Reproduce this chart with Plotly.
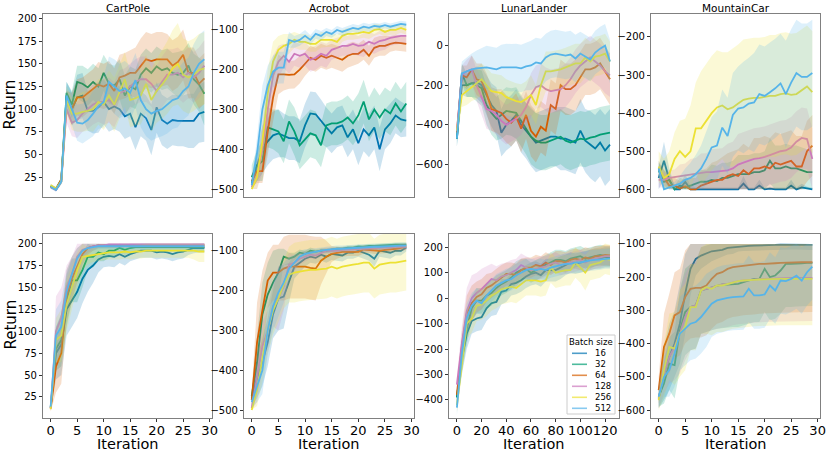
import numpy as np
import plotly.graph_objects as go

W, H = 830, 454

batch_sizes = ["16", "32", "64", "128", "256", "512"]
colors = ["#0173b2", "#029e73", "#d55e00", "#cc78bc", "#ece133", "#56b4e9"]
envs = ["CartPole", "Acrobot", "LunarLander", "MountainCar"]

iters = list(range(30))
iters_lunar = list(range(0, 125, 4))

# ---------------- top row ----------------
# rows in each list: batch size 16, 32, 64, 128, 256, 512
cartpole_top_mean = [
    [15, 11, 20, 115, 100, 113, 115, 98, 98, 102, 108, 100, 103, 100, 92, 95, 80, 95, 90, 77, 102, 88, 84, 88, 87, 87, 87, 87, 95, 97],
    [15, 12, 22, 118, 105, 130, 128, 124, 130, 125, 140, 128, 126, 133, 115, 125, 122, 138, 145, 140, 147, 143, 145, 140, 138, 140, 148, 133, 127, 117],
    [14, 12, 22, 108, 100, 113, 113, 118, 122, 127, 125, 128, 120, 135, 137, 140, 140, 148, 155, 153, 155, 155, 155, 148, 152, 160, 140, 140, 128, 134],
    [14, 11, 20, 100, 85, 88, 95, 100, 105, 108, 108, 110, 105, 118, 120, 125, 130, 133, 133, 128, 120, 130, 138, 138, 140, 135, 140, 135, 140, 148],
    [16, 12, 20, 110, 95, 95, 97, 98, 100, 108, 105, 115, 105, 120, 133, 110, 112, 115, 128, 110, 120, 127, 135, 145, 150, 138, 135, 138, 143, 145],
    [14, 11, 20, 115, 100, 85, 84, 88, 95, 103, 108, 130, 125, 120, 123, 118, 132, 110, 100, 95, 98, 100, 105, 110, 112, 120, 125, 140, 150, 155],
]
cartpole_top_sd = [
    [2, 2, 3, 15, 18, 25, 25, 22, 25, 28, 25, 25, 25, 25, 25, 25, 25, 25, 25, 28, 28, 28, 28, 28, 28, 28, 30, 30, 32, 33],
    [2, 2, 3, 12, 15, 18, 20, 20, 20, 20, 20, 22, 22, 22, 22, 22, 22, 22, 22, 22, 22, 22, 22, 22, 25, 25, 25, 28, 30, 35],
    [2, 2, 3, 12, 18, 20, 22, 22, 22, 25, 25, 25, 25, 25, 25, 25, 28, 30, 30, 30, 30, 30, 28, 28, 28, 28, 28, 28, 28, 28],
    [2, 2, 3, 15, 15, 20, 20, 22, 22, 22, 25, 25, 25, 25, 25, 25, 25, 25, 25, 25, 28, 28, 28, 28, 28, 28, 28, 28, 28, 28],
    [2, 2, 3, 15, 18, 20, 22, 22, 25, 25, 28, 28, 30, 30, 30, 30, 30, 32, 32, 35, 35, 38, 40, 42, 45, 40, 40, 40, 40, 40],
    [2, 2, 3, 15, 18, 20, 22, 22, 25, 25, 28, 28, 30, 30, 30, 30, 30, 30, 30, 30, 30, 30, 32, 32, 32, 32, 32, 32, 32, 32],
]

acrobot_top_mean = [
    [-485, -440, -400, -380, -365, -360, -365, -372, -372, -380, -340, -310, -312, -330, -345, -360, -345, -340, -370, -350, -385, -350, -365, -345, -400, -350, -335, -315, -325, -328],
    [-470, -440, -430, -345, -350, -355, -380, -330, -355, -390, -375, -360, -365, -390, -340, -335, -335, -330, -320, -335, -315, -280, -325, -300, -320, -300, -310, -285, -305, -285],
    [-480, -455, -455, -355, -270, -212, -212, -213, -212, -200, -185, -170, -175, -165, -170, -165, -170, -175, -165, -160, -160, -150, -165, -145, -140, -140, -135, -132, -133, -135],
    [-495, -470, -400, -300, -215, -180, -165, -180, -160, -165, -160, -175, -170, -160, -165, -150, -145, -140, -140, -135, -140, -138, -130, -135, -128, -125, -120, -118, -115, -115],
    [-500, -470, -380, -260, -180, -150, -140, -135, -125, -130, -130, -135, -135, -125, -125, -125, -130, -115, -110, -110, -108, -105, -108, -100, -98, -105, -100, -100, -95, -100],
    [-490, -410, -300, -240, -205, -195, -195, -125, -130, -125, -115, -125, -110, -115, -105, -110, -100, -105, -100, -95, -98, -92, -95, -90, -92, -88, -92, -88, -85, -87],
]
acrobot_top_sd = [
    [20, 40, 60, 60, 60, 60, 55, 55, 55, 55, 55, 55, 55, 55, 50, 50, 50, 50, 50, 50, 55, 55, 55, 55, 55, 50, 50, 45, 45, 40],
    [30, 40, 50, 50, 50, 55, 55, 55, 60, 60, 60, 60, 60, 55, 55, 55, 55, 55, 55, 55, 55, 55, 55, 55, 55, 55, 55, 55, 55, 55],
    [15, 30, 30, 60, 60, 50, 40, 35, 35, 35, 30, 30, 30, 30, 30, 30, 30, 30, 30, 30, 25, 25, 25, 25, 25, 25, 20, 20, 20, 20],
    [10, 30, 60, 60, 50, 40, 30, 30, 30, 30, 30, 30, 30, 30, 30, 25, 25, 25, 25, 25, 25, 30, 25, 25, 25, 25, 20, 20, 20, 20],
    [5, 30, 60, 60, 50, 35, 30, 25, 20, 20, 20, 20, 20, 20, 18, 18, 18, 15, 15, 15, 15, 15, 15, 15, 12, 12, 12, 12, 12, 12],
    [10, 40, 60, 50, 40, 40, 40, 20, 15, 15, 15, 12, 12, 12, 10, 10, 10, 10, 10, 10, 10, 10, 10, 8, 8, 8, 8, 8, 8, 8],
]

lunar_top_mean = [
    [-470, -200, -200, -190, -185, -200, -250, -300, -330, -440, -400, -380, -350, -400, -430, -460, -490, -480, -470, -460, -460, -470, -470, -480, -490, -430, -480, -500, -520, -490, -530, -500],
    [-470, -140, -200, -190, -200, -215, -300, -340, -370, -350, -330, -335, -340, -380, -420, -460, -480, -490, -490, -480, -470, -460, -480, -490, -480, -470, -475, -465, -460, -450, -445, -440],
    [-440, -150, -160, -120, -170, -180, -240, -320, -330, -340, -370, -390, -360, -420, -350, -430, -460, -410, -430, -300, -320, -200, -220, -220, -200, -160, -120, -120, -110, -90, -130, -170],
    [-430, -150, -130, -120, -200, -260, -320, -330, -350, -380, -400, -385, -370, -350, -310, -250, -210, -200, -220, -230, -225, -220, -200, -170, -130, -100, -80, -60, -80, -100, -130, -150],
    [-430, -250, -230, -210, -190, -170, -200, -230, -235, -240, -260, -270, -280, -285, -270, -250, -300, -200, -130, -130, -125, -120, -110, -100, -90, -90, -60, -80, -55, -50, -40, -80],
    [-470, -140, -130, -120, -115, -112, -110, -115, -120, -110, -110, -112, -110, -115, -105, -100, -85, -90, -60, -45, -40, -45, -50, -45, -65, -40, -55, -70, -35, -15, 0, -80],
]
lunar_top_sd = [
    [40, 50, 60, 70, 80, 90, 100, 110, 120, 120, 130, 130, 130, 140, 140, 150, 150, 150, 150, 150, 150, 160, 160, 160, 160, 160, 160, 170, 170, 170, 180, 180],
    [40, 50, 60, 70, 80, 90, 100, 110, 110, 120, 120, 120, 130, 130, 130, 140, 140, 140, 140, 140, 140, 140, 140, 140, 140, 140, 140, 140, 140, 140, 140, 140],
    [40, 50, 60, 70, 80, 90, 100, 110, 110, 120, 120, 120, 120, 120, 120, 130, 130, 130, 130, 130, 130, 130, 130, 130, 130, 130, 130, 130, 130, 130, 130, 130],
    [40, 50, 60, 70, 80, 90, 100, 100, 100, 100, 100, 100, 100, 100, 100, 110, 110, 110, 110, 110, 110, 110, 110, 110, 110, 110, 110, 110, 110, 110, 110, 110],
    [50, 60, 70, 70, 80, 80, 90, 90, 90, 90, 90, 90, 90, 90, 90, 100, 100, 100, 100, 100, 100, 100, 100, 100, 100, 100, 100, 100, 100, 100, 100, 100],
    [40, 60, 70, 80, 90, 100, 110, 110, 110, 115, 120, 120, 120, 120, 120, 125, 125, 125, 120, 120, 120, 120, 120, 120, 120, 110, 110, 110, 110, 110, 110, 110],
]

mountain_top_mean = [
    [-570, -525, -575, -600, -600, -580, -600, -600, -600, -600, -600, -600, -600, -600, -600, -600, -585, -600, -600, -590, -600, -598, -600, -600, -600, -590, -600, -595, -598, -600],
    [-550, -580, -575, -600, -590, -595, -590, -585, -580, -580, -575, -578, -570, -570, -565, -560, -560, -560, -555, -555, -550, -525, -545, -545, -540, -545, -545, -550, -555, -555],
    [-545, -570, -590, -590, -598, -592, -600, -600, -590, -585, -580, -575, -575, -565, -560, -565, -550, -560, -545, -545, -540, -545, -530, -535, -530, -525, -540, -540, -500, -485],
    [-575, -575, -570, -568, -565, -562, -560, -558, -556, -555, -555, -553, -552, -550, -545, -535, -530, -525, -520, -518, -515, -510, -505, -500, -498, -490, -475, -465, -468, -520],
    [-540, -570, -560, -520, -500, -515, -500, -440, -440, -420, -400, -385, -380, -390, -385, -375, -365, -362, -360, -360, -358, -355, -355, -350, -348, -352, -350, -340, -330, -345],
    [-545, -600, -595, -590, -585, -575, -570, -560, -545, -520, -490, -485, -438, -460, -405, -388, -385, -375, -372, -350, -355, -345, -335, -322, -350, -320, -295, -305, -305, -295],
]
mountain_top_sd = [
    [30, 50, 30, 10, 10, 20, 10, 5, 5, 5, 5, 5, 5, 5, 5, 5, 20, 5, 5, 15, 5, 5, 5, 5, 5, 15, 5, 10, 5, 5],
    [20, 30, 20, 10, 20, 20, 20, 30, 30, 30, 40, 40, 40, 40, 40, 50, 50, 50, 50, 50, 50, 60, 60, 60, 60, 60, 60, 60, 60, 60],
    [20, 20, 20, 20, 20, 20, 30, 30, 40, 40, 50, 50, 60, 60, 60, 70, 70, 70, 80, 80, 80, 80, 80, 80, 80, 80, 80, 80, 80, 80],
    [20, 20, 20, 20, 30, 30, 40, 40, 50, 50, 60, 60, 60, 70, 70, 80, 80, 80, 80, 80, 80, 80, 80, 80, 80, 80, 80, 80, 80, 80],
    [40, 50, 60, 70, 80, 100, 120, 120, 150, 150, 150, 150, 140, 150, 155, 155, 158, 158, 158, 158, 158, 160, 160, 160, 160, 160, 160, 160, 160, 160],
    [20, 30, 10, 10, 20, 30, 40, 50, 60, 70, 80, 90, 100, 100, 110, 110, 120, 120, 130, 130, 130, 130, 130, 130, 140, 140, 140, 140, 140, 140],
]

# ---------------- bottom row ----------------
cartpole_bot_mean = [
    [13, 75, 85, 125, 135, 145, 160, 170, 175, 182, 185, 186, 185, 188, 185, 188, 190, 192, 192, 192, 190, 191, 190, 188, 190, 191, 193, 195, 195, 195],
    [13, 80, 90, 135, 158, 158, 170, 185, 185, 190, 188, 192, 192, 195, 193, 195, 196, 196, 196, 196, 196, 196, 196, 196, 196, 196, 196, 196, 196, 196],
    [12, 60, 75, 140, 160, 175, 188, 195, 197, 198, 198, 198, 198, 198, 198, 198, 198, 198, 198, 198, 198, 198, 198, 198, 198, 198, 198, 198, 198, 198],
    [12, 100, 115, 150, 165, 185, 193, 195, 197, 198, 198, 199, 199, 199, 199, 199, 199, 199, 199, 199, 199, 199, 199, 199, 199, 199, 199, 199, 199, 199],
    [11, 90, 95, 130, 150, 170, 185, 186, 187, 188, 189, 190, 190, 190, 191, 190, 191, 191, 192, 192, 192, 192, 192, 192, 192, 192, 192, 192, 191, 191],
    [14, 95, 105, 145, 165, 183, 192, 195, 196, 197, 197, 197, 197, 197, 197, 197, 197, 197, 197, 197, 197, 197, 197, 197, 197, 197, 197, 197, 197, 197],
]
cartpole_bot_sd = [
    [3, 30, 35, 30, 30, 30, 28, 25, 20, 15, 12, 12, 12, 10, 10, 8, 8, 8, 8, 8, 8, 8, 8, 8, 8, 8, 6, 6, 5, 5],
    [3, 25, 30, 30, 25, 25, 20, 15, 12, 10, 8, 8, 6, 6, 6, 6, 6, 5, 5, 5, 5, 5, 5, 5, 5, 5, 5, 5, 5, 5],
    [4, 30, 35, 30, 25, 20, 12, 8, 5, 3, 3, 3, 3, 3, 3, 3, 3, 3, 3, 3, 3, 3, 3, 3, 3, 3, 3, 3, 3, 3],
    [3, 40, 35, 25, 20, 15, 8, 5, 3, 2, 2, 2, 2, 2, 2, 2, 2, 2, 2, 2, 2, 2, 2, 2, 2, 2, 2, 2, 2, 2],
    [3, 25, 30, 30, 25, 20, 15, 10, 8, 8, 8, 8, 8, 8, 8, 8, 8, 8, 8, 8, 8, 8, 8, 8, 8, 8, 8, 10, 12, 12],
    [3, 30, 30, 25, 20, 12, 8, 5, 4, 3, 3, 3, 3, 3, 3, 3, 3, 3, 3, 3, 3, 3, 3, 3, 3, 3, 3, 3, 3, 3],
]

acrobot_bot_mean = [
    [-470, -420, -380, -330, -260, -220, -215, -180, -140, -130, -120, -115, -118, -110, -115, -108, -110, -112, -105, -105, -100, -105, -110, -120, -100, -102, -105, -100, -100, -92],
    [-465, -380, -260, -210, -180, -155, -115, -120, -115, -105, -108, -100, -102, -100, -100, -98, -95, -95, -92, -92, -90, -90, -88, -88, -87, -86, -86, -85, -85, -85],
    [-475, -330, -250, -175, -155, -155, -145, -140, -140, -140, -140, -143, -145, -125, -115, -108, -105, -103, -103, -103, -103, -97, -98, -100, -100, -98, -97, -95, -93, -90],
    [-495, -420, -340, -300, -240, -220, -190, -135, -130, -120, -115, -110, -112, -105, -100, -100, -100, -98, -98, -97, -96, -95, -95, -93, -92, -92, -92, -90, -90, -90],
    [-500, -450, -370, -300, -250, -220, -185, -160, -155, -152, -150, -148, -148, -146, -145, -140, -145, -140, -137, -135, -133, -130, -130, -145, -135, -132, -130, -130, -127, -125],
    [-480, -440, -400, -300, -240, -205, -180, -145, -130, -115, -108, -105, -103, -100, -98, -96, -95, -95, -94, -93, -92, -92, -91, -90, -90, -89, -88, -88, -87, -87],
]
acrobot_bot_sd = [
    [20, 50, 60, 60, 60, 80, 80, 50, 30, 25, 20, 15, 15, 15, 15, 15, 15, 15, 15, 15, 15, 15, 15, 20, 15, 15, 15, 12, 12, 10],
    [20, 60, 80, 80, 80, 60, 20, 15, 10, 8, 8, 8, 6, 6, 6, 6, 5, 5, 5, 5, 5, 5, 5, 5, 5, 5, 5, 5, 5, 5],
    [20, 100, 100, 70, 70, 70, 80, 80, 80, 80, 80, 80, 80, 60, 40, 20, 15, 12, 10, 10, 10, 10, 8, 8, 8, 8, 8, 8, 8, 8],
    [10, 60, 60, 50, 50, 80, 60, 30, 20, 15, 12, 10, 10, 10, 8, 8, 8, 8, 8, 8, 8, 8, 8, 8, 8, 8, 8, 8, 8, 8],
    [10, 40, 60, 60, 60, 60, 60, 70, 75, 75, 75, 75, 75, 75, 75, 75, 75, 75, 75, 75, 75, 75, 75, 75, 75, 75, 75, 75, 75, 75],
    [15, 40, 60, 60, 60, 60, 50, 30, 20, 15, 12, 10, 10, 8, 8, 8, 8, 8, 8, 8, 8, 8, 8, 8, 8, 8, 8, 8, 8, 8],
]

lunar_bot_mean = [
    [-390, -240, -140, -90, -80, -75, -40, -20, -15, 25, 30, 55, 60, 70, 85, 95, 100, 90, 110, 110, 110, 120, 130, 140, 135, 140, 145, 150, 155, 155, 160, 160],
    [-390, -230, -120, -40, -10, -10, 10, 20, 40, 55, 65, 80, 100, 110, 115, 100, 110, 120, 130, 140, 150, 150, 145, 155, 160, 165, 155, 160, 165, 170, 165, 165],
    [-380, -190, -60, -20, 5, 15, 40, 50, 65, 80, 95, 95, 90, 110, 120, 120, 130, 125, 140, 130, 145, 145, 140, 150, 155, 150, 160, 155, 165, 165, 170, 168],
    [-340, -180, -50, 0, 20, 35, 55, 75, 70, 85, 90, 100, 110, 130, 120, 110, 115, 120, 125, 135, 140, 130, 135, 140, 145, 150, 140, 150, 155, 160, 165, 165],
    [-420, -250, -100, -80, -30, -25, -10, 10, 20, 35, 40, 45, 40, 55, 70, 70, 70, 65, 70, 120, 100, 105, 110, 110, 140, 120, 100, 130, 135, 140, 155, 150],
    [-430, -220, -80, -30, -10, -20, 10, 30, 50, 60, 70, 75, 90, 100, 110, 115, 110, 115, 110, 120, 125, 130, 135, 135, 140, 140, 145, 148, 150, 152, 155, 155],
]
lunar_bot_sd = [
    [30, 60, 60, 50, 50, 50, 50, 50, 50, 50, 45, 45, 45, 45, 45, 45, 45, 45, 45, 45, 45, 45, 40, 40, 40, 40, 40, 40, 40, 40, 40, 40],
    [30, 60, 60, 50, 50, 50, 50, 50, 50, 45, 45, 45, 45, 45, 40, 40, 40, 40, 40, 40, 40, 40, 40, 40, 40, 40, 40, 40, 40, 40, 40, 40],
    [30, 60, 70, 70, 60, 60, 55, 50, 50, 50, 45, 45, 45, 45, 40, 40, 40, 40, 40, 40, 40, 40, 40, 40, 40, 40, 40, 40, 40, 40, 40, 40],
    [30, 70, 90, 90, 80, 80, 70, 60, 55, 50, 50, 50, 45, 45, 45, 45, 45, 45, 40, 40, 40, 40, 40, 40, 40, 40, 40, 40, 40, 40, 40, 40],
    [30, 60, 60, 55, 60, 60, 60, 60, 60, 60, 60, 60, 60, 60, 60, 60, 60, 60, 60, 60, 60, 60, 60, 60, 60, 60, 70, 60, 60, 60, 60, 60],
    [30, 60, 60, 50, 50, 45, 45, 45, 45, 45, 45, 45, 45, 45, 45, 40, 40, 40, 40, 40, 40, 40, 40, 40, 40, 40, 40, 40, 40, 40, 40, 40],
]

mountain_bot_mean = [
    [-565, -490, -440, -400, -340, -250, -175, -145, -135, -128, -122, -120, -118, -112, -110, -108, -106, -106, -105, -105, -104, -103, -103, -102, -102, -102, -102, -102, -102, -103],
    [-560, -520, -460, -465, -360, -305, -290, -285, -240, -235, -230, -225, -222, -222, -220, -220, -215, -210, -205, -205, -175, -200, -195, -180, -160, -160, -158, -158, -157, -157],
    [-540, -410, -370, -315, -305, -260, -235, -232, -232, -225, -205, -190, -185, -175, -170, -168, -165, -163, -162, -160, -160, -158, -158, -157, -156, -155, -155, -155, -155, -155],
    [-565, -490, -440, -410, -370, -320, -290, -285, -240, -235, -230, -225, -222, -220, -215, -212, -210, -208, -207, -206, -205, -204, -204, -203, -203, -202, -202, -202, -202, -202],
    [-570, -480, -410, -415, -370, -350, -290, -290, -240, -230, -235, -225, -225, -220, -215, -212, -210, -210, -208, -207, -206, -205, -205, -205, -205, -204, -205, -205, -204, -205],
    [-560, -500, -480, -430, -370, -355, -340, -335, -320, -300, -280, -270, -265, -262, -260, -258, -258, -235, -255, -255, -252, -225, -240, -210, -212, -205, -195, -210, -185, -168],
]
mountain_bot_sd = [
    [30, 80, 100, 100, 120, 120, 80, 50, 40, 35, 30, 25, 20, 20, 20, 15, 15, 15, 15, 15, 15, 15, 15, 15, 15, 15, 15, 15, 15, 15],
    [30, 60, 80, 100, 120, 130, 130, 130, 130, 130, 130, 130, 130, 130, 130, 130, 130, 130, 130, 130, 130, 130, 130, 130, 130, 130, 130, 130, 130, 130],
    [40, 100, 120, 130, 130, 140, 150, 150, 150, 150, 150, 150, 150, 150, 150, 150, 150, 150, 150, 150, 150, 150, 150, 150, 150, 150, 150, 150, 150, 150],
    [30, 60, 80, 100, 120, 130, 130, 130, 130, 130, 130, 130, 130, 130, 130, 130, 130, 130, 130, 130, 130, 130, 130, 130, 130, 130, 130, 130, 130, 130],
    [30, 80, 100, 110, 130, 130, 130, 130, 130, 140, 140, 140, 140, 140, 140, 140, 140, 140, 140, 140, 140, 140, 140, 140, 140, 140, 140, 140, 140, 140],
    [30, 60, 80, 100, 110, 110, 110, 110, 110, 110, 100, 100, 100, 100, 100, 100, 100, 100, 100, 100, 100, 100, 100, 100, 100, 100, 100, 100, 100, 100],
]

# return bounds of each env (bands are cut there)
clip_lo = [0, -500, None, -600]
clip_hi = [200, 0, None, -100]

y_ticks_top = [list(range(25, 201, 25)), list(range(-500, -99, 100)), [-600, -400, -200, 0], list(range(-600, -199, 100))]
y_ticks_bot = [list(range(25, 201, 25)), list(range(-500, -99, 100)), list(range(-400, 201, 100)), list(range(-600, -99, 100))]
y_range_top = [[3, 205], [-520, -60], [-765, 160], [-620, -140]]
y_range_bot = [[1, 211], [-520, -58], [-471, 252], [-624, -70]]

# panel boxes in pixels
col_px = [(43, 212), (244, 414), (449, 619), (651, 820)]
row_px = [(14, 197), (234, 418)]


def fx(px):
    return px / W


def fy(py):
    return 1 - py / H


def rgba(hex_col, a):
    h = hex_col.lstrip("#")
    return "rgba(%d,%d,%d,%s)" % (int(h[0:2], 16), int(h[2:4], 16), int(h[4:6], 16), a)


def tick_text(vals):
    return [("\u2212%d" % -v) if v < 0 else str(v) for v in vals]


def note(text, x, y, size, **kw):
    d = dict(text=text, x=fx(x), y=fy(y), xref="paper", yref="paper",
             xanchor="center", yanchor="middle", showarrow=False,
             font=dict(size=size, color="black", family="DejaVu Sans"))
    d.update(kw)
    return d


panels = [
    (0, 0, iters, cartpole_top_mean, cartpole_top_sd),
    (0, 1, iters, acrobot_top_mean, acrobot_top_sd),
    (0, 2, iters_lunar, lunar_top_mean, lunar_top_sd),
    (0, 3, iters, mountain_top_mean, mountain_top_sd),
    (1, 0, iters, cartpole_bot_mean, cartpole_bot_sd),
    (1, 1, iters, acrobot_bot_mean, acrobot_bot_sd),
    (1, 2, iters_lunar, lunar_bot_mean, lunar_bot_sd),
    (1, 3, iters, mountain_bot_mean, mountain_bot_sd),
]

fig = go.Figure()
layout = dict(
    width=W, height=H,
    margin=dict(l=0, r=0, t=0, b=0, autoexpand=False),
    paper_bgcolor="white", plot_bgcolor="white",
    font=dict(family="DejaVu Sans", color="black"),
    showlegend=False,
)

for row, col, xs, means, sds in panels:
    n = row * 4 + col + 1
    xa = "x" if n == 1 else "x%d" % n
    ya = "y" if n == 1 else "y%d" % n
    for i in range(6):
        m = np.array(means[i], dtype=float)
        s = np.array(sds[i], dtype=float)
        lo = m - s
        hi = m + s
        if clip_lo[col] is not None:
            lo = np.clip(lo, clip_lo[col], clip_hi[col])
            hi = np.clip(hi, clip_lo[col], clip_hi[col])
        # shaded band
        fig.add_trace(go.Scatter(
            x=list(xs) + list(xs)[::-1],
            y=list(hi) + list(lo)[::-1],
            fill="toself", fillcolor=rgba(colors[i], 0.2),
            line=dict(width=0), mode="lines", hoverinfo="skip",
            xaxis=xa, yaxis=ya,
        ))
        # mean line
        fig.add_trace(go.Scatter(
            x=xs, y=m, mode="lines",
            line=dict(color=colors[i], width=1.8),
            name=batch_sizes[i], xaxis=xa, yaxis=ya,
        ))

    x0, x1 = col_px[col]
    y0, y1 = row_px[row]
    lunar = col == 2
    yt = (y_ticks_top if row == 0 else y_ticks_bot)[col]
    layout["xaxis" + ("" if n == 1 else str(n))] = dict(
        domain=[fx(x0), fx(x1)],
        range=[-6.4, 131.3] if lunar else [-1.45, 30.45],
        tickvals=list(range(0, 121, 20)) if lunar else list(range(0, 31, 5)),
        showticklabels=(row == 1), tickangle=0, ticklabelstandoff=-3,
        ticks="outside" if row == 1 else "", ticklen=3, tickcolor="#333",
        tickfont=dict(size=13, color="black"),
        showgrid=False, zeroline=False,
        showline=True, mirror=True, linecolor="#808080", linewidth=1.2,
        anchor=ya,
    )
    layout["yaxis" + ("" if n == 1 else str(n))] = dict(
        domain=[fy(y1), fy(y0)],
        range=(y_range_top if row == 0 else y_range_bot)[col],
        tickvals=yt, ticktext=tick_text(yt),
        ticks="outside", ticklen=3, tickcolor="#333",
        tickfont=dict(size=10, color="black"),
        showgrid=False, zeroline=False,
        showline=True, mirror=True, linecolor="#808080", linewidth=1.2,
        anchor=xa,
    )

fig.update_layout(**layout)

annotations = []
for col, env in enumerate(envs):
    cx = (col_px[col][0] + col_px[col][1]) / 2
    annotations.append(note(env, cx, 8, 10.5))
    annotations.append(note("Iteration", cx, 444, 14.5))
for cy in (104.5, 324.5):
    annotations.append(note("Return", 10, cy, 15, textangle=-90))

# legend box drawn inside the LunarLander bottom panel
shapes = [dict(type="rect", xref="paper", yref="paper",
               x0=fx(567), x1=fx(615), y0=fy(414), y1=fy(335),
               fillcolor="rgba(255,255,255,0.8)", line=dict(color="#cccccc", width=1))]
annotations.append(note("Batch size", 591, 342, 8.5))
for i, b in enumerate(batch_sizes):
    ly = 353.3 + 11 * i
    shapes.append(dict(type="line", xref="paper", yref="paper",
                       x0=fx(572), x1=fx(587), y0=fy(ly), y1=fy(ly),
                       line=dict(color=rgba(colors[i], 0.7), width=1.6)))
    annotations.append(note(b, 593, ly, 8.5, xanchor="left"))

fig.update_layout(annotations=annotations, shapes=shapes)

# drop the browser's default 8px page margin so the figure sits at the window corner
fig.write_html("out.html", config={"displayModeBar": False},
               post_script="document.body.style.margin='0px';document.body.style.overflow='hidden';")
